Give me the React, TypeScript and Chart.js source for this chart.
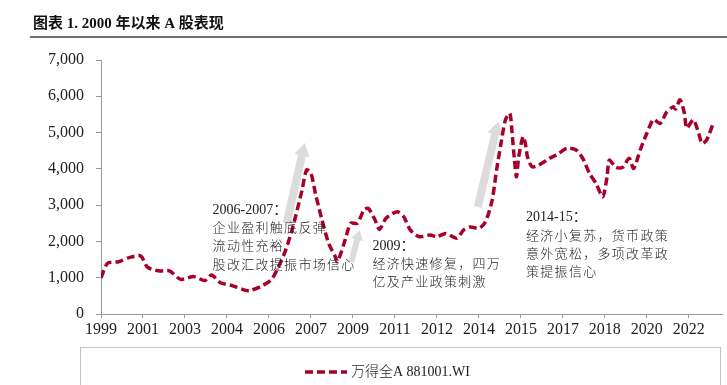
import React, { useEffect, useRef } from 'react';
import { Chart, registerables } from 'chart.js';

Chart.register(...registerables);

const TITLE = '图表 1. 2000 年以来 A 股表现';
const SERIES_LABEL = '万得全A 881001.WI';

// month index counted from 1999-12
const MONTHS = [
  0, 3, 8, 13, 18, 21, 26, 31, 36, 42, 47, 50, 54, 59, 64, 67, 72, 77, 80, 83,
  86, 88, 91, 93, 95, 97, 100, 103, 106, 107, 110, 113, 116, 119, 121, 124, 126, 129, 134, 137,
  140, 144, 149, 152, 156, 161, 164, 167, 171, 174, 177, 179, 181, 183, 185, 186, 187, 188, 189, 191,
  192, 193, 195, 198, 203, 206, 211, 215, 218, 221, 224, 227, 229, 230, 233, 236, 239, 241, 244, 247,
  250, 253, 256, 259, 260, 262, 264, 265, 268, 270, 272, 274, 277,
];
const VALUES = [
  1000, 1400, 1440, 1560, 1600, 1290, 1190, 1190, 955, 1030, 920, 1075, 860, 790, 680, 640, 750, 940, 1260, 1670,
  2220, 2680, 3420, 3970, 3880, 3330, 2590, 1950, 1580, 1440, 1950, 2500, 2500, 2870, 2910, 2590, 2330, 2640, 2820, 2680,
  2310, 2130, 2180, 2130, 2220, 2090, 2310, 2400, 2360, 2540, 3140, 3970, 4700, 5350, 5530, 5000, 4300, 3780, 4330, 4890,
  4700, 4330, 4060, 4100, 4290, 4380, 4570, 4520, 4290, 3880, 3600, 3230, 3780, 4240, 4040, 4040, 4290, 4010, 4520, 4980,
  5360, 5250, 5570, 5710, 5650, 5900, 5530, 5120, 5350, 5070, 4700, 4790, 5250,
];

const TICK_MONTHS = [0, 19, 38, 57, 76, 95, 114, 133, 152, 171, 190, 209, 228, 247, 266];
const TICK_LABELS = ['1999', '2001', '2003', '2004', '2006', '2007', '2009', '2011', '2012', '2014', '2015', '2017', '2018', '2020', '2022'];
const X_MAX = 281;
const Y_MIN = 0;
const Y_MAX = 7000;
const Y_STEP = 1000;

const NOTES = [
  { m: 50.5, v: 2866, lines: ['2006-2007：', '企业盈利触底反弹', '流动性充裕', '股改汇改提振市场信心'] },
  { m: 122.8, v: 1874, lines: ['2009：', '经济快速修复，四万', '亿及产业政策刺激'] },
  { m: 192.3, v: 2654, lines: ['2014-15：', '经济小复苏，货币政策', '意外宽松，多项改革政', '策提振信心'] },
];

const ARROWS = [
  { from: [84.0, 2500], to: [92.2, 4712], shaft: 8, head: 16, headLen: 13 },
  { from: [113.2, 1433], to: [117.1, 2315], shaft: 6, head: 12, headLen: 10 },
  { from: [170.5, 2948], to: [179.7, 5299], shaft: 8, head: 16, headLen: 13 },
];

const LINE_COLOR = '#a8002b';
const SERIF = "'Liberation Serif', 'Times New Roman', 'Noto Sans CJK SC', serif";

const overlay = {
  id: 'overlay',
  beforeDatasetsDraw(chart: any) {
    const { ctx, scales } = chart;
    const xs = scales.x;
    const ys = scales.y;
    ctx.save();
    ctx.fillStyle = '#dcdcdc';
    for (const a of ARROWS) {
      const x0 = xs.getPixelForValue(a.from[0]);
      const y0 = ys.getPixelForValue(a.from[1]);
      const x1 = xs.getPixelForValue(a.to[0]);
      const y1 = ys.getPixelForValue(a.to[1]);
      const dx = x1 - x0;
      const dy = y1 - y0;
      const L = Math.hypot(dx, dy);
      const ux = dx / L;
      const uy = dy / L;
      const nx = -uy;
      const ny = ux;
      const bx = x1 - ux * a.headLen;
      const by = y1 - uy * a.headLen;
      const s = a.shaft / 2;
      const h = a.head / 2;
      ctx.beginPath();
      ctx.moveTo(x0 + nx * s, y0 + ny * s);
      ctx.lineTo(bx + nx * s, by + ny * s);
      ctx.lineTo(bx + nx * h, by + ny * h);
      ctx.lineTo(x1, y1);
      ctx.lineTo(bx - nx * h, by - ny * h);
      ctx.lineTo(bx - nx * s, by - ny * s);
      ctx.lineTo(x0 - nx * s, y0 - ny * s);
      ctx.closePath();
      ctx.fill();
    }
    ctx.restore();
  },
  afterDatasetsDraw(chart: any) {
    const { ctx, scales } = chart;
    const xs = scales.x;
    const ys = scales.y;
    ctx.save();
    ctx.fillStyle = '#222';
    ctx.textBaseline = 'middle';
    ctx.textAlign = 'left';
    for (const n of NOTES) {
      const x = xs.getPixelForValue(n.m);
      const y = ys.getPixelForValue(n.v);
      n.lines.forEach((line, i) => {
        if (i === 0) {
          ctx.font = `14px ${SERIF}`;
          (ctx as any).letterSpacing = '0px';
        } else {
          ctx.font = `300 13px ${SERIF}`;
          (ctx as any).letterSpacing = '1.3px';
        }
        ctx.fillText(line, x, y + i * 18.4);
      });
    }
    (ctx as any).letterSpacing = '0px';
    ctx.restore();
  },
  afterDraw(chart: any) {
    const { ctx } = chart;
    ctx.save();
    // title
    ctx.fillStyle = '#111';
    ctx.font = `bold 15px ${SERIF}`;
    ctx.textBaseline = 'middle';
    ctx.textAlign = 'left';
    ctx.fillText(TITLE, 33, 24);
    ctx.strokeStyle = '#6e6e6e';
    ctx.lineWidth = 2;
    ctx.beginPath();
    ctx.moveTo(30, 37);
    ctx.lineTo(727, 37);
    ctx.stroke();
    // legend box
    ctx.strokeStyle = '#c4c4c4';
    ctx.lineWidth = 1;
    ctx.strokeRect(80.5, 347.5, 640, 60);
    // legend sample
    const ds = chart.data.datasets[0];
    ctx.strokeStyle = ds.borderColor;
    ctx.lineWidth = ds.borderWidth;
    ctx.setLineDash(ds.borderDash);
    ctx.beginPath();
    ctx.moveTo(305, 372);
    ctx.lineTo(347, 372);
    ctx.stroke();
    ctx.setLineDash([]);
    ctx.fillStyle = '#222';
    ctx.font = `300 14px ${SERIF}`;
    ctx.fillText(ds.label, 351, 372);
    ctx.restore();
  },
};

export default function App() {
  const ref = useRef<HTMLCanvasElement | null>(null);
  useEffect(() => {
    if (!ref.current) return;
    const points = MONTHS.map((m, i) => ({ x: m, y: VALUES[i] }));
    const chart = new Chart(ref.current, {
      type: 'line',
      data: {
        datasets: [
          {
            label: SERIES_LABEL,
            data: points,
            borderColor: LINE_COLOR,
            borderWidth: 3.5,
            borderDash: [8, 4],
            pointRadius: 0,
            tension: 0.25,
            fill: false,
          },
        ],
      },
      options: {
        responsive: false,
        devicePixelRatio: 1,
        animation: false,
        layout: { padding: { left: 0, top: 60, right: 5, bottom: 41 } },
        plugins: { legend: { display: false }, tooltip: { enabled: false }, title: { display: false } },
        scales: {
          x: {
            type: 'linear',
            min: 0,
            max: X_MAX,
            afterFit: (s: any) => { s.height = 30; },
            afterBuildTicks: (s: any) => { s.ticks = TICK_MONTHS.map((v) => ({ value: v })); },
            grid: { drawOnChartArea: false, drawTicks: true, tickLength: 4, color: '#999' },
            border: { color: '#999' },
            ticks: {
              autoSkip: false,
              maxRotation: 0,
              padding: 2,
              color: '#222',
              font: { family: SERIF, size: 16 },
              callback: (_v: any, i: number) => TICK_LABELS[i],
            },
          },
          y: {
            min: Y_MIN,
            max: Y_MAX,
            afterFit: (s: any) => { s.width = 101; },
            grid: { drawOnChartArea: false, drawTicks: true, tickLength: 5, color: '#999' },
            border: { color: '#999' },
            ticks: {
              stepSize: Y_STEP,
              padding: 12,
              color: '#222',
              font: { family: SERIF, size: 16 },
              callback: (v: any) => Number(v).toLocaleString('en-US'),
            },
          },
        },
      },
      plugins: [overlay],
    });
    return () => chart.destroy();
  }, []);
  return (
    <div style={{ position: 'fixed', left: 0, top: 0, width: 727, height: 385, background: '#fff' }}>
      <canvas ref={ref} width={727} height={385} style={{ display: 'block' }} />
    </div>
  );
}
